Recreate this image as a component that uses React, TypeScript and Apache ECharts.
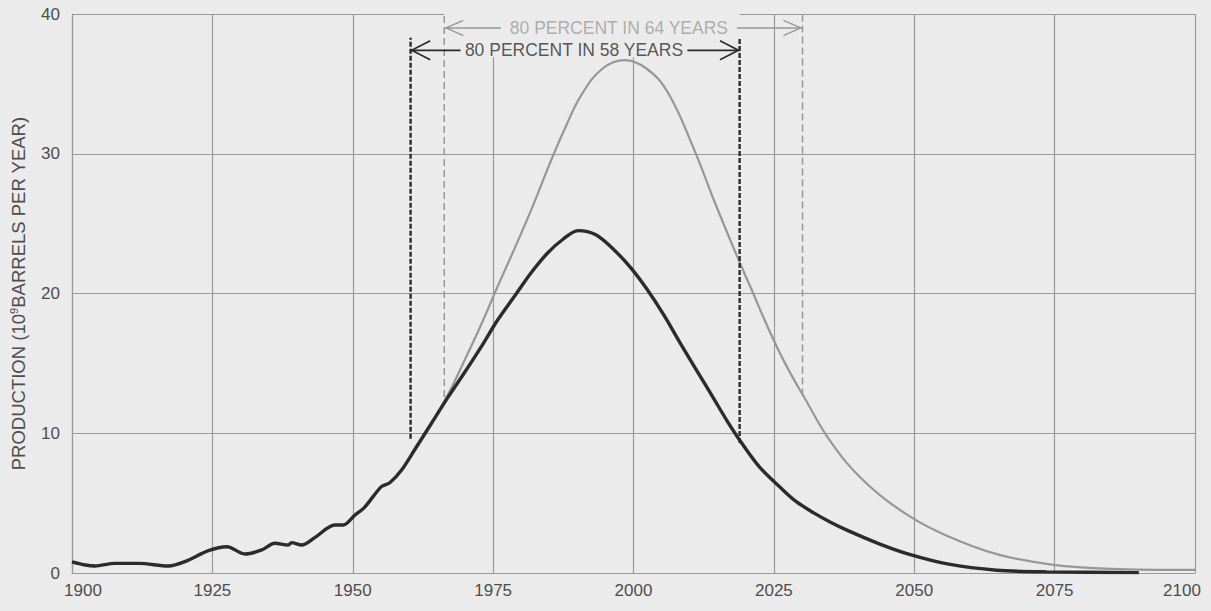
import React, { useEffect, useRef } from "react";
import * as echarts from "echarts";

// ---- data ----
const darkYears = [
  1900, 1902.4, 1904.1, 1907.6, 1911.9, 1917.2, 1920.1, 1924.3, 1927.6, 1930.8,
  1933.8, 1936.1, 1938.5, 1939.1, 1940.9, 1943.3, 1946.8, 1948.3, 1950.4, 1952.1,
  1955.1, 1956.6, 1958.7, 1961, 1964, 1967, 1970, 1972.9, 1975.8, 1978.8,
  1981.8, 1984.7, 1987.5, 1990.1, 1993.3, 1996.6, 1999.6, 2002.5, 2005.5, 2008.4,
  2011.4, 2014.4, 2016.8, 2019.3, 2022.5, 2026.2, 2029, 2032.1, 2035, 2038.1,
  2044, 2049, 2055.9, 2064.7, 2073.6, 2090,
];
const darkValues = [
  0.8, 0.57, 0.5, 0.69, 0.69, 0.5, 0.81, 1.6, 1.88, 1.36,
  1.65, 2.13, 2.0, 2.17, 2.0, 2.55, 3.43, 3.43, 4.15, 4.7,
  6.18, 6.46, 7.37, 8.8, 10.7, 12.6, 14.4, 16.2, 18.1, 19.8,
  21.5, 22.9, 23.9, 24.5, 24.2, 23.1, 21.8, 20.25, 18.4, 16.4,
  14.4, 12.4, 10.8, 9.28, 7.55, 6.1, 5.1, 4.3, 3.65, 3.05,
  2.05, 1.35, 0.65, 0.2, 0.08, 0.03,
];
const lightYears = [
  1964, 1967, 1970, 1972.9, 1975.8, 1978.8, 1981.8, 1985.3, 1988, 1990.7,
  1994.5, 1998.4, 2002.3, 2006.1, 2010.8, 2014.4, 2018.2, 2021, 2023.9, 2027,
  2030.5, 2035.1, 2041, 2049, 2055.9, 2064.7, 2074.5, 2085, 2100,
];
const lightValues = [
  10.7, 12.8, 15.3, 17.8, 20.5, 23.2, 26.0, 29.5, 32.0, 34.2,
  36.1, 36.7, 36.1, 34.4, 30.3, 26.6, 22.9, 20.3, 17.6, 15.0,
  12.5, 9.4, 6.6, 4.1, 2.65, 1.35, 0.6, 0.3, 0.22,
];

// annotation spans (years) and levels (production)
const darkSpan = [1960.3, 2018.9];
const lightSpan = [1966.3, 2030.1];
const darkDashBottom = [9.6, 9.3];
const lightDashBottom = [12.6, 12.7];
const darkDashTop = 38.3;
const lightDashTop = 40;
const darkArrowLevel = 37.4;
const lightArrowLevel = 39.0;
const darkTextGap = [1969.2, 2009.6];
const lightTextGap = [1976.4, 2018.4];
const darkLabel = "80 PERCENT IN 58 YEARS";
const lightLabel = "80 PERCENT IN 64 YEARS";
const maskBottom = 36.9;

const xMin = 1900;
const xMax = 2100;
const xStep = 25;
const yMin = 0;
const yMax = 40;
const yStep = 10;

const BG = "#ebebeb";
const GRID = "#9a9a9a";
const DARK = "#2b2b2b";
const LIGHT = "#979797";
const FONT = "Liberation Sans, Arial, sans-serif";

function seg(points: number[][], color: string, width: number, type: any = "solid", z = 4) {
  return {
    type: "line",
    data: points,
    symbol: "none",
    showSymbol: false,
    silent: true,
    z,
    lineStyle: { color, width, type, cap: "butt" },
  };
}

function chevron(tipX: number, level: number, dir: number, len: number, half: number, color: string, width: number) {
  return seg(
    [
      [tipX + len * dir, level + half],
      [tipX, level],
      [tipX + len * dir, level - half],
    ],
    color,
    width
  );
}

export default function App() {
  const ref = useRef<HTMLDivElement>(null);
  useEffect(() => {
    document.body.style.margin = "0";
    const chart = echarts.init(ref.current!, null, { renderer: "svg" });
    const labelColor = "#4d4d4d";
    const fs = 17;
    const option: any = {
      animation: false,
      backgroundColor: BG,
      grid: { left: 70, right: 16, top: 14, bottom: 38, containLabel: false },
      xAxis: {
        type: "value",
        min: xMin,
        max: xMax,
        interval: xStep,
        axisLine: { show: true, lineStyle: { color: GRID, width: 1.2 } },
        axisTick: { show: false },
        splitLine: { show: true, lineStyle: { color: GRID, width: 1.2 } },
        axisLabel: {
          margin: 9,
          color: labelColor,
          fontSize: fs,
          fontFamily: FONT,
          formatter: (v: number) =>
            v === xMin ? `{f|${v}}` : v === xMax ? `{l|${v}}` : `{n|${v}}`,
          rich: {
            f: { padding: [0, 0, 0, 22], fontSize: fs, color: labelColor, fontFamily: FONT },
            l: { padding: [0, 26, 0, 0], fontSize: fs, color: labelColor, fontFamily: FONT },
            n: { fontSize: fs, color: labelColor, fontFamily: FONT },
          },
        },
      },
      yAxis: {
        type: "value",
        min: yMin,
        max: yMax,
        interval: yStep,
        axisLine: { show: true, lineStyle: { color: GRID, width: 1.2 } },
        axisTick: { show: false },
        splitLine: { show: true, lineStyle: { color: GRID, width: 1.2 } },
        axisLabel: { margin: 12, color: labelColor, fontSize: fs, fontFamily: FONT },
        name: "{a|PRODUCTION (10}{s|9}{a|BARRELS PER YEAR)}",
        nameLocation: "middle",
        nameRotate: 90,
        nameGap: 44,
        nameTextStyle: {
          color: labelColor,
          fontFamily: FONT,
          rich: {
            a: { fontSize: 18.5, color: labelColor, fontFamily: FONT, lineHeight: 20 },
            s: { fontSize: 11, color: labelColor, fontFamily: FONT, verticalAlign: "top", lineHeight: 20 },
          },
        },
      },
      series: [
        // mask behind annotations (hides grid lines there)
        {
          type: "line",
          data: [],
          silent: true,
          z: 1,
          markArea: {
            silent: true,
            itemStyle: { color: BG },
            data: [[{ coord: [lightSpan[0], maskBottom] }, { coord: [darkSpan[1], yMax] }]],
          },
        },
        // light (higher) curve
        {
          type: "line",
          data: lightYears.map((y, i) => [y, lightValues[i]]),
          symbol: "none",
          smooth: 0.4,
          silent: true,
          z: 3,
          lineStyle: { color: LIGHT, width: 2.2 },
        },
        // dark (lower) curve
        {
          type: "line",
          data: darkYears.map((y, i) => [y, darkValues[i]]),
          symbol: "none",
          smooth: 0.3,
          silent: true,
          z: 4,
          lineStyle: { color: DARK, width: 3.4 },
        },
        // dashed verticals
        seg([[lightSpan[0], lightDashBottom[0]], [lightSpan[0], lightDashTop]], LIGHT, 1.5, [7, 4]),
        seg([[lightSpan[1], lightDashBottom[1]], [lightSpan[1], lightDashTop]], LIGHT, 1.5, [7, 4]),
        seg([[darkSpan[0], darkDashBottom[0]], [darkSpan[0], darkDashTop]], DARK, 2.4, [5, 2]),
        seg([[darkSpan[1], darkDashBottom[1]], [darkSpan[1], darkDashTop]], DARK, 2.4, [5, 2]),
        // arrow shafts
        seg([[lightSpan[0], lightArrowLevel], [lightTextGap[0], lightArrowLevel]], LIGHT, 1.4),
        seg([[lightTextGap[1], lightArrowLevel], [lightSpan[1], lightArrowLevel]], LIGHT, 1.4),
        seg([[darkSpan[0], darkArrowLevel], [darkTextGap[0], darkArrowLevel]], DARK, 1.6),
        seg([[darkTextGap[1], darkArrowLevel], [darkSpan[1], darkArrowLevel]], DARK, 1.6),
        // arrow heads
        chevron(lightSpan[0] + 0.3, lightArrowLevel, 1, 3.1, 0.55, LIGHT, 1.4),
        chevron(lightSpan[1] - 0.3, lightArrowLevel, -1, 3.1, 0.55, LIGHT, 1.4),
        chevron(darkSpan[0] + 0.2, darkArrowLevel, 1, 3.3, 0.68, DARK, 1.7),
        chevron(darkSpan[1] - 0.2, darkArrowLevel, -1, 3.3, 0.68, DARK, 1.7),
        // labels
        {
          type: "scatter",
          data: [[(lightTextGap[0] + lightTextGap[1]) / 2, lightArrowLevel]],
          symbolSize: 0,
          silent: true,
          z: 5,
          label: {
            show: true,
            position: "inside",
            formatter: lightLabel,
            fontSize: 17.5,
            fontFamily: FONT,
            color: "#9c9c9c",
          },
        },
        {
          type: "scatter",
          data: [[(darkTextGap[0] + darkTextGap[1]) / 2, darkArrowLevel]],
          symbolSize: 0,
          silent: true,
          z: 5,
          label: {
            show: true,
            position: "inside",
            formatter: darkLabel,
            fontSize: 17.5,
            fontFamily: FONT,
            color: "#2e2e2e",
          },
        },
      ],
    };
    chart.setOption(option);
    return () => chart.dispose();
  }, []);
  return (
    <div
      ref={ref}
      style={{ position: "absolute", left: 0, top: 0, width: 1211, height: 611, background: BG }}
    />
  );
}
